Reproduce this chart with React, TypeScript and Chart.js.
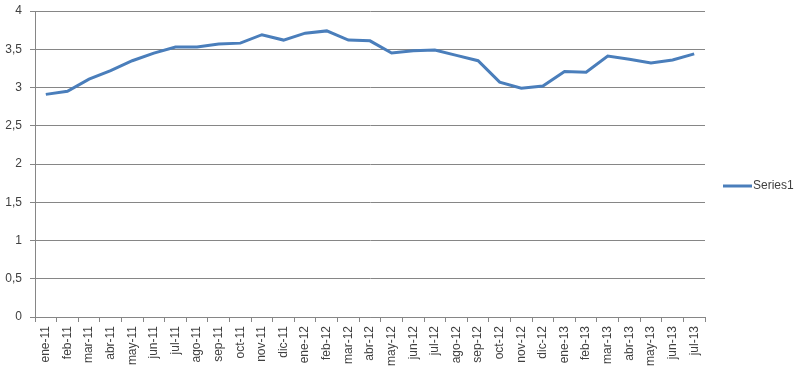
import React, { useEffect, useRef } from 'react';
import { Chart, registerables } from 'chart.js';

Chart.register(...registerables);

const categories = [
  'ene-11', 'feb-11', 'mar-11', 'abr-11', 'may-11', 'jun-11', 'jul-11', 'ago-11', 'sep-11', 'oct-11', 'nov-11', 'dic-11',
  'ene-12', 'feb-12', 'mar-12', 'abr-12', 'may-12', 'jun-12', 'jul-12', 'ago-12', 'sep-12', 'oct-12', 'nov-12', 'dic-12',
  'ene-13', 'feb-13', 'mar-13', 'abr-13', 'may-13', 'jun-13', 'jul-13',
];

const series1 = [
  2.91, 2.95, 3.11, 3.22, 3.35, 3.45, 3.53, 3.53, 3.57, 3.58, 3.69, 3.62,
  3.71, 3.74, 3.62, 3.61, 3.45, 3.48, 3.49, 3.42, 3.35, 3.07, 2.99, 3.02,
  3.21, 3.20, 3.41, 3.37, 3.32, 3.36, 3.44,
];

const seriesName = 'Series1';
const yMin = 0;
const yMax = 4;
const yStep = 0.5;

const LINE_COLOR = '#4A7EBB';
const GRID_COLOR = '#868686';
const TEXT_COLOR = '#404040';
const FONT = '"Liberation Sans", Arial, sans-serif';

const legendPlugin = {
  id: 'customLegend',
  afterDraw(chart: any) {
    const ctx = chart.ctx;
    const area = chart.chartArea;
    const y = 186;
    const x0 = area.right + 18;
    ctx.save();
    ctx.strokeStyle = LINE_COLOR;
    ctx.lineWidth = 3;
    ctx.beginPath();
    ctx.moveTo(x0, y);
    ctx.lineTo(x0 + 29, y);
    ctx.stroke();
    ctx.fillStyle = TEXT_COLOR;
    ctx.font = '12px ' + FONT;
    ctx.textBaseline = 'middle';
    ctx.textAlign = 'left';
    ctx.fillText(seriesName, x0 + 30, y);
    ctx.restore();
  },
};

export default function App() {
  const ref = useRef<HTMLCanvasElement | null>(null);

  useEffect(() => {
    document.body.style.margin = '0';
    const canvas = ref.current;
    if (!canvas) return;
    const chart = new Chart(canvas, {
      type: 'line',
      data: {
        labels: categories,
        datasets: [
          {
            label: seriesName,
            data: series1,
            borderColor: LINE_COLOR,
            backgroundColor: LINE_COLOR,
            borderWidth: 3,
            pointRadius: 0,
            tension: 0,
            fill: false,
          },
        ],
      },
      options: {
        animation: false,
        responsive: false,
        maintainAspectRatio: false,
        layout: { padding: { top: 11, right: 99, left: 0, bottom: 0 } },
        plugins: {
          legend: { display: false },
          tooltip: { enabled: false },
        },
        scales: {
          x: {
            offset: true,
            grid: {
              display: true,
              offset: true,
              drawOnChartArea: false,
              drawTicks: true,
              tickLength: 5,
              color: GRID_COLOR,
            },
            border: { display: true, color: GRID_COLOR, width: 1 },
            ticks: {
              autoSkip: false,
              minRotation: 90,
              maxRotation: 90,
              padding: 4,
              color: TEXT_COLOR,
              font: { family: FONT, size: 12 },
            },
            afterFit(scale: any) {
              scale.height = 54;
              scale.paddingTop = 0;
              scale.paddingBottom = 0;
            },
          },
          y: {
            min: yMin,
            max: yMax,
            grid: {
              color: GRID_COLOR,
              tickLength: 5,
              drawTicks: true,
            },
            border: { display: true, color: GRID_COLOR, width: 1 },
            ticks: {
              stepSize: yStep,
              padding: 8,
              color: TEXT_COLOR,
              font: { family: FONT, size: 12 },
              callback: (v: any) => String(v).replace('.', ','),
            },
            afterFit(scale: any) {
              scale.width = 35;
              scale.paddingTop = 0;
              scale.paddingBottom = 0;
            },
          },
        },
      },
      plugins: [legendPlugin],
    });
    return () => chart.destroy();
  }, []);

  return (
    <div style={{ width: 804, height: 371, background: '#fff' }}>
      <canvas ref={ref} width={804} height={371} style={{ display: 'block' }} />
    </div>
  );
}
